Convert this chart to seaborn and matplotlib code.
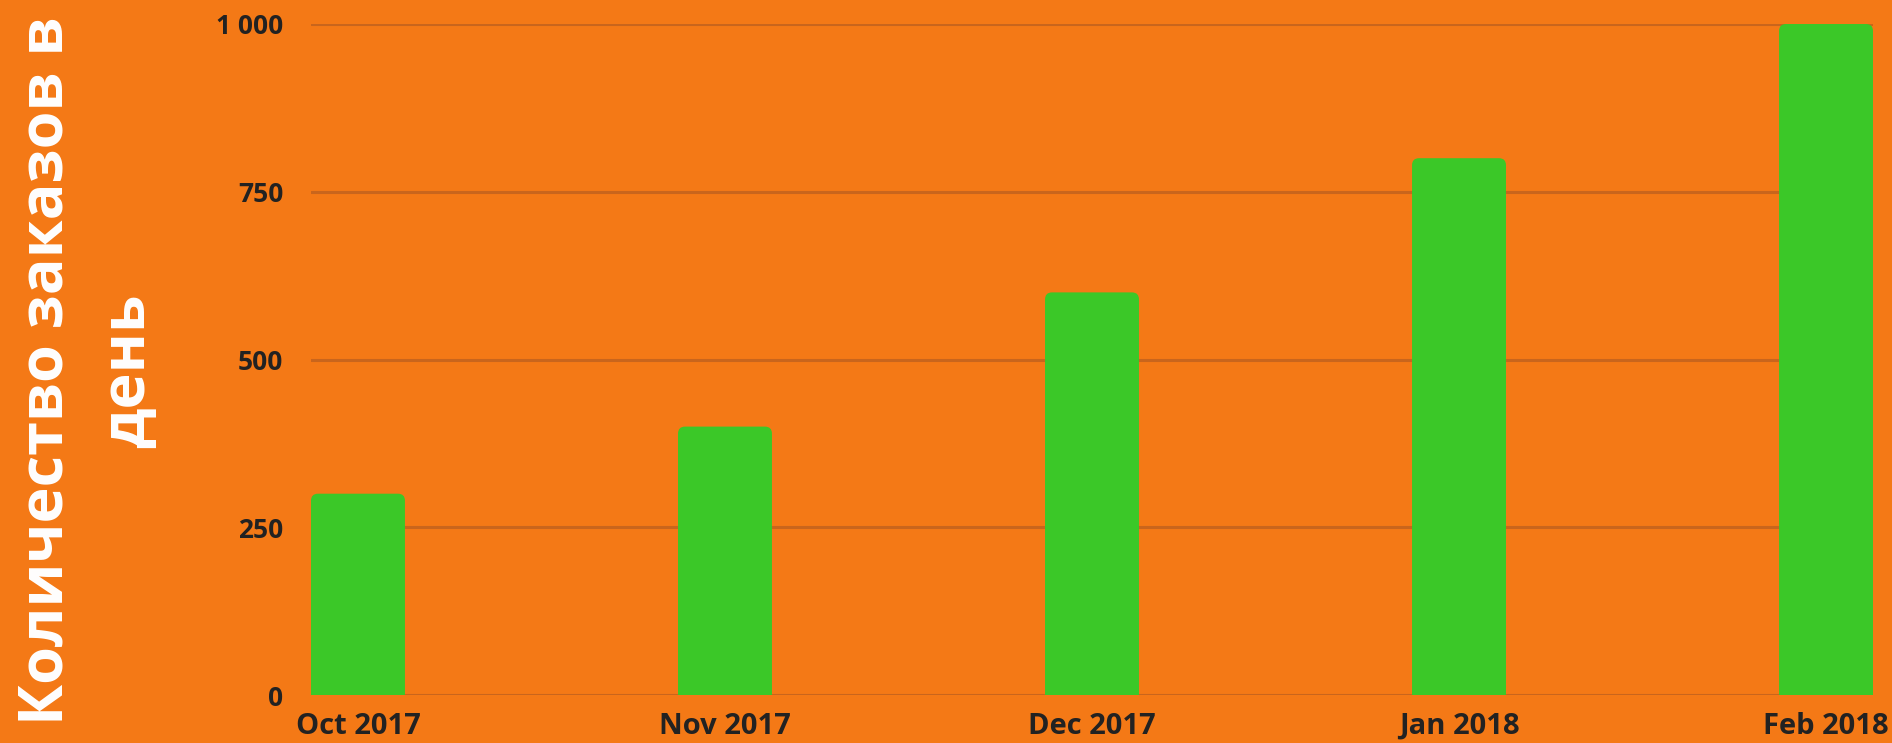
import matplotlib.pyplot as plt
from matplotlib.patches import FancyBboxPatch
import seaborn as sns
import pandas as pd

months = ["Oct 2017", "Nov 2017", "Dec 2017", "Jan 2018", "Feb 2018"]
orders = [300, 400, 600, 800, 1000]
y_ticks = [0, 250, 500, 750, 1000]
y_tick_labels = ["0", "250", "500", "750", "1 000"]
y_title = "Количество заказов в\nдень"

bg = "#F47916"
green = "#3BC828"
grid_col = "#C9651C"
text_col = "#222222"

sns.set_style("white")
plt.rcParams['font.family'] = ['Open Sans', 'DejaVu Sans']

df = pd.DataFrame({"month": months, "orders": orders})

fig = plt.figure(figsize=(18.92, 7.43), dpi=100)
fig.patch.set_facecolor(bg)
ax = fig.add_axes([311 / 1892, 1 - 695 / 743, (1873 - 311) / 1892, (695 - 24) / 743])
ax.set_facecolor(bg)

bar_w = 0.256
sns.barplot(data=df, x="month", y="orders", color=green, width=bar_w,
            saturation=1, ax=ax, zorder=3)

ax.set_ylim(0, 1000)
ax.set_xlim(-bar_w / 2, len(months) - 1 + bar_w / 2)

# swap bars for rounded ones (top corners only show, bottoms hidden below 0)
ax_w_px = (1873 - 311)
ax_h_px = (695 - 24)
x_per_px = (len(months) - 1 + bar_w) / ax_w_px
y_per_px = 1000 / ax_h_px
rad = 7 * x_per_px
for p in list(ax.patches):
    x0, w, h = p.get_x(), p.get_width(), p.get_height()
    p.remove()
    fb = FancyBboxPatch((x0, -20), w, h + 20,
                        boxstyle=f"round,pad=0,rounding_size={rad}",
                        mutation_aspect=y_per_px / x_per_px,
                        facecolor=green, edgecolor="none", zorder=3)
    ax.add_patch(fb)

ax.set_yticks(y_ticks)
ax.set_yticklabels(y_tick_labels)
ax.yaxis.grid(True, color=grid_col, linewidth=2.2, zorder=0)
ax.set_axisbelow(True)
for s in ax.spines.values():
    s.set_visible(False)

ax.tick_params(axis="y", length=0, pad=20, labelsize=19, labelcolor=text_col)
ax.tick_params(axis="x", length=0, pad=12, labelsize=21, labelcolor=text_col)
for lbl in ax.get_xticklabels() + ax.get_yticklabels():
    lbl.set_fontweight("bold")

ax.set_xlabel("")
ax.set_ylabel("")

fig.text(88 / 1892, 1 - 371 / 743, y_title, rotation=90, ha="center", va="center",
         multialignment="center", color="white", fontsize=44, fontweight="bold",
         linespacing=1.45)

fig.savefig("out.png", dpi=100, facecolor=bg)
